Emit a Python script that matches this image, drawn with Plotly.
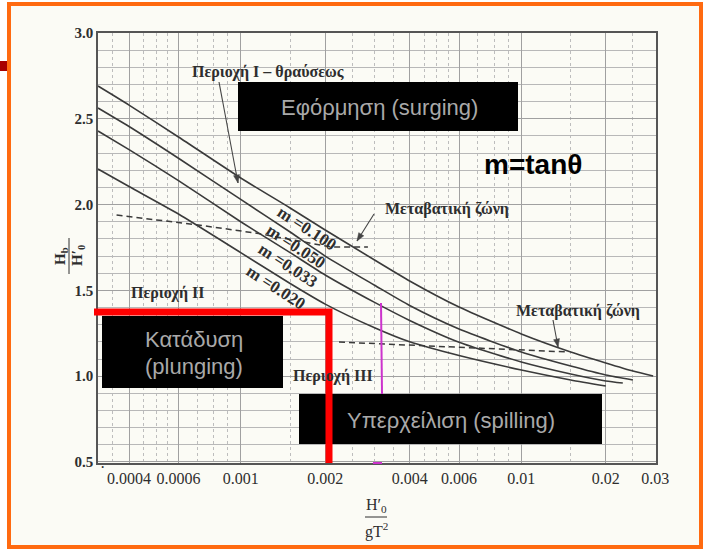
import plotly.graph_objects as go
import math

# ---------------- data ----------------
x_m0100 = [0.00031, 0.0004, 0.0006, 0.001, 0.0015, 0.002, 0.003, 0.004, 0.006, 0.01, 0.015, 0.02, 0.025, 0.0295]
y_m0100 = [2.691, 2.580, 2.394, 2.155, 1.980, 1.852, 1.677, 1.555, 1.403, 1.246, 1.141, 1.077, 1.030, 1.001]

x_m0050 = [0.00031, 0.0004, 0.0006, 0.001, 0.0015, 0.002, 0.003, 0.004, 0.006, 0.01, 0.015, 0.02, 0.025]
y_m0050 = [2.563, 2.455, 2.270, 2.030, 1.840, 1.700, 1.530, 1.412, 1.275, 1.141, 1.059, 1.007, 0.978]

x_m0033 = [0.00031, 0.0004, 0.0006, 0.001, 0.0015, 0.002, 0.003, 0.004, 0.006, 0.01, 0.015, 0.02, 0.023]
y_m0033 = [2.429, 2.320, 2.140, 1.900, 1.720, 1.590, 1.430, 1.325, 1.198, 1.083, 1.013, 0.972, 0.960]

x_m0020 = [0.00031, 0.0004, 0.0006, 0.001, 0.0015, 0.002, 0.003, 0.004, 0.006, 0.01, 0.015, 0.02]
y_m0020 = [2.207, 2.105, 1.945, 1.720, 1.540, 1.420, 1.282, 1.200, 1.120, 1.036, 0.978, 0.943]

x_trans1 = [0.000361, 0.000706, 0.00113, 0.0021, 0.00284]
y_trans1 = [1.939, 1.881, 1.834, 1.753, 1.753]

x_trans2 = [0.00224, 0.01463]
y_trans2 = [1.199, 1.141]

slope_labels = ["m =0.100", "m =0.050", "m =0.033", "m =0.020"]

x_tickvals = [0.0004, 0.0006, 0.001, 0.002, 0.004, 0.006, 0.01, 0.02, 0.03]
x_ticktext = ["0.0004", "0.0006", "0.001", "0.002", "0.004", "0.006", "0.01", "0.02", "0.03"]
y_tickvals = [0.5, 1.0, 1.5, 2.0, 2.5, 3.0]
y_ticktext = ["0.5", "1.0", "1.5", "2.0", "2.5", "3.0"]

# ---------------- layout geometry ----------------
W, H = 703, 549
L, R, T, B = 98, 656, 33, 463
XR = [math.log10(0.00031), math.log10(0.0302)]
YR = [0.494, 3.0]

def px(p):
    return (p - L) / (R - L)

def py(p):
    return (B - p) / (B - T)

SERIF = "Liberation Serif, Times New Roman, serif"
SANS = "Liberation Sans, Arial, sans-serif"
INK = "#2e2e2e"

fig = go.Figure()

line_style = dict(color="#3a3a3a", width=1.6, shape="spline", smoothing=0.6)
for xs, ys, nm in [(x_m0100, y_m0100, slope_labels[0]), (x_m0050, y_m0050, slope_labels[1]),
                   (x_m0033, y_m0033, slope_labels[2]), (x_m0020, y_m0020, slope_labels[3])]:
    fig.add_trace(go.Scatter(x=xs, y=ys, mode="lines", line=line_style, name=nm,
                             showlegend=False, hoverinfo="skip"))

for xs, ys in [(x_trans1, y_trans1), (x_trans2, y_trans2)]:
    fig.add_trace(go.Scatter(x=xs, y=ys, mode="lines",
                             line=dict(color="#3a3a3a", width=1.5, dash="6px,4px"),
                             showlegend=False, hoverinfo="skip"))

shapes = []
shapes.append(dict(type="rect", xref="paper", yref="paper", x0=px(9), x1=px(701), y0=py(547), y1=py(4),
                   fillcolor="#fbfbf5", line=dict(width=0), layer="below"))
# magenta hand mark
shapes.append(dict(type="line", xref="paper", yref="paper", x0=px(381), x1=px(382), y0=py(303), y1=py(394),
                   line=dict(color="#cc33cc", width=2), layer="above"))
shapes.append(dict(type="line", xref="paper", yref="paper", x0=px(373), x1=px(382), y0=py(463), y1=py(463),
                   line=dict(color="#cc33cc", width=2), layer="above"))
# black boxes
for (x0, y0, x1, y1) in [(238, 82, 518, 131), (102, 316, 283, 388), (299, 394, 602, 444)]:
    shapes.append(dict(type="rect", xref="paper", yref="paper", x0=px(x0), x1=px(x1), y0=py(y1), y1=py(y0),
                       fillcolor="#000000", line=dict(width=0), layer="above"))
# red boundary
shapes.append(dict(type="path", xref="paper", yref="paper",
                   path="M {} {} L {} {} L {} {}".format(px(94), py(312), px(329), py(312), px(329), py(463)),
                   line=dict(color="#ff0000", width=7), layer="above"))
# x-title fraction bar
shapes.append(dict(type="line", xref="paper", yref="paper", x0=px(365), x1=px(387), y0=py(517), y1=py(517),
                   line=dict(color=INK, width=1)))
# y-title fraction bar
shapes.append(dict(type="line", xref="paper", yref="paper", x0=px(69), x1=px(69), y0=py(238), y1=py(274),
                   line=dict(color=INK, width=1)))
# orange slide frame
shapes.append(dict(type="rect", xref="paper", yref="paper", x0=px(9), x1=px(701), y0=py(547), y1=py(4),
                   line=dict(color="#ff6a10", width=4), layer="above"))
# small dark red bar
shapes.append(dict(type="rect", xref="paper", yref="paper", x0=px(0), x1=px(7), y0=py(71), y1=py(61),
                   fillcolor="#a80000", line=dict(width=0), layer="above"))


def arrow(xh, yh, xt, yt):
    shapes.append(dict(type="line", xref="paper", yref="paper", x0=px(xt), y0=py(yt), x1=px(xh), y1=py(yh),
                       line=dict(color="#444444", width=1.1), layer="above"))
    d = math.hypot(xh - xt, yh - yt)
    ux, uy = (xh - xt) / d, (yh - yt) / d
    hl, hw = 8, 3
    bx, by = xh - ux * hl, yh - uy * hl
    p1 = (bx - uy * hw, by + ux * hw)
    p2 = (bx + uy * hw, by - ux * hw)
    shapes.append(dict(type="path", xref="paper", yref="paper",
                       path="M {} {} L {} {} L {} {} Z".format(px(xh), py(yh), px(p1[0]), py(p1[1]),
                                                              px(p2[0]), py(p2[1])),
                       fillcolor="#444444", line=dict(color="#444444", width=0.5), layer="above"))


arrow(238, 183, 219, 82)
arrow(357, 241, 374, 214)
arrow(558, 347, 553, 320)

ann = []

def text(x, y, s, size=13, color=INK, family=SERIF, angle=0, **kw):
    ann.append(dict(xref="paper", yref="paper", x=px(x), y=py(y), text=s, showarrow=False,
                    font=dict(size=size, color=color, family=family), textangle=angle,
                    xanchor="center", yanchor="middle", **kw))

text(268, 72, "<b>Περιοχή I – θραύσεως</b>", size=16)
text(447, 209, "<b>Μεταβατική ζώνη</b>", size=16)
text(578, 311, "<b>Μεταβατική ζώνη</b>", size=16)
text(168, 293, "<b>Περιοχή ΙΙ</b>", size=16)
text(333, 376, "<b>Περιοχή ΙΙΙ</b>", size=16)

for (cx, cy), lab in zip([(307, 228), (296, 246), (288, 265), (276, 287)], slope_labels):
    text(cx, cy, "<b>" + lab + "</b>", size=17, angle=33)

GREY = "#a9a9a9"
text(379, 107, "Εφόρμηση (surging)", size=22, color=GREY, family=SANS)
text(194, 339, "Κατάδυση", size=22, color=GREY, family=SANS)
text(194, 366, "(plunging)", size=22, color=GREY, family=SANS)
text(451, 420, "Υπερχείλιση (spilling)", size=22, color=GREY, family=SANS)

text(533, 164, "<b>m=tanθ</b>", size=28, color="#000000", family=SANS)

text(376, 505, "H′<sub>0</sub>", size=16)
text(376, 530, "gT<sup>2</sup>", size=16)
text(61, 256, "<b>H<sub>b</sub></b>", size=15, angle=-90)
text(78, 256, "<b>H′<sub>0</sub></b>", size=15, angle=-90)
text(102, 467, "·", size=16)

fig.update_layout(
    width=W, height=H,
    margin=dict(l=L, r=W - R, t=T, b=H - B, pad=0),
    paper_bgcolor="#ffffff",
    plot_bgcolor="#fbfbf5",
    shapes=shapes,
    annotations=ann,
    showlegend=False,
    xaxis=dict(type="log", range=XR, tickmode="array", tickvals=x_tickvals, ticktext=x_ticktext,
               showgrid=True, gridcolor="#a0a0a0", gridwidth=1,
               minor=dict(tickmode="array",
                          tickvals=[k * 10 ** e for e in (-4, -3, -2) for k in (1.5, 2.5, 3, 3.5, 4.5, 5, 5.5, 7, 8, 9)],
                          showgrid=True, gridcolor="#bdbdbd", griddash="dot", gridwidth=1),
               showline=True, linecolor="#555555", linewidth=1.5, mirror=True, ticks="",
               tickfont=dict(family=SERIF, size=16, color=INK), zeroline=False),
    yaxis=dict(range=YR, tickmode="array", tickvals=y_tickvals, ticktext=["<b>" + t + "</b>" for t in y_ticktext],
               showgrid=True, gridcolor="#a0a0a0", gridwidth=1,
               minor=dict(dtick=0.1, showgrid=True, gridcolor="#b8b8b8", gridwidth=1),
               showline=True, linecolor="#555555", linewidth=1.5, mirror=True, ticks="",
               tickfont=dict(family=SERIF, size=15, color=INK), zeroline=False),
)

fig.write_html("out.html", config={"displayModeBar": False},
               post_script="document.body.style.margin='0px';document.body.style.overflow='hidden';")
